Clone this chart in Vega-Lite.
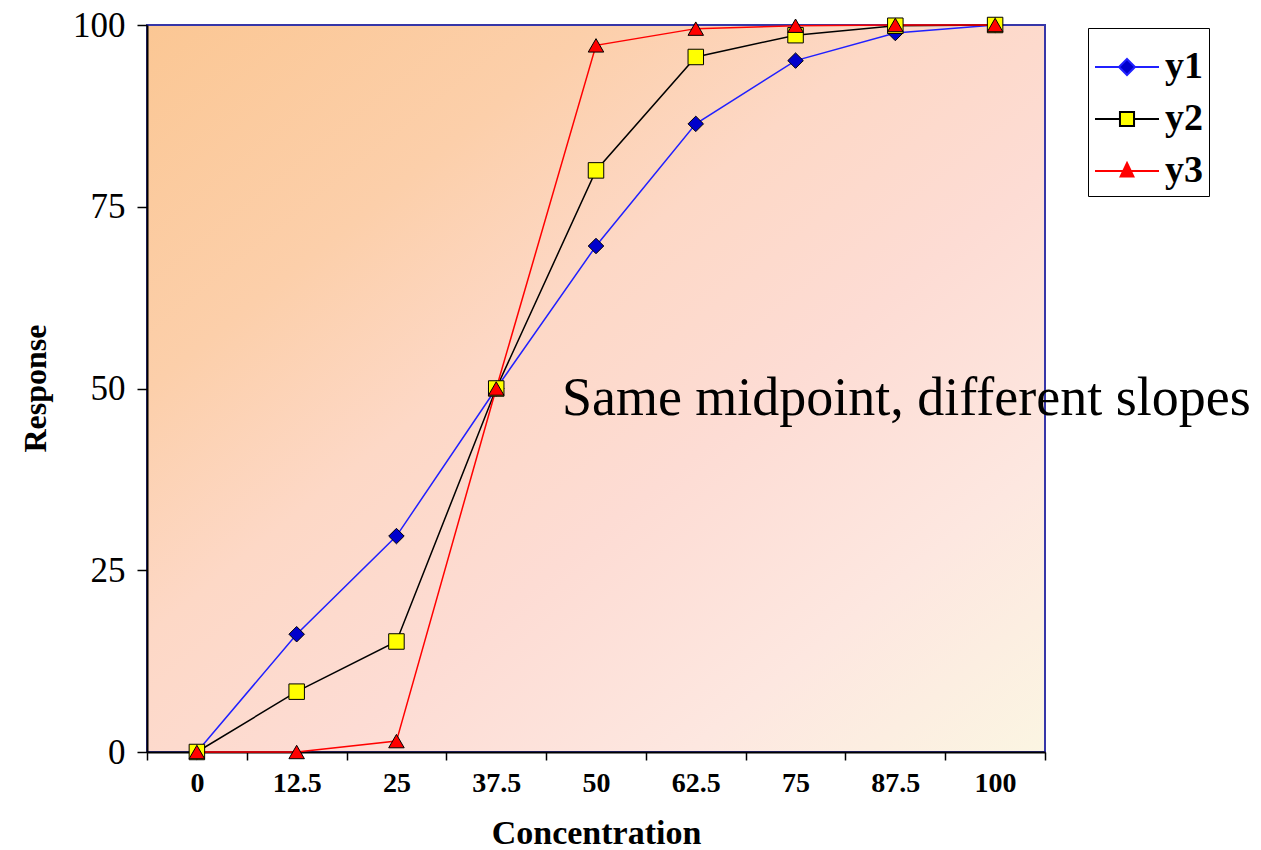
{
  "$schema": "https://vega.github.io/schema/vega-lite/v6.json",
  "width": 898,
  "height": 727,
  "autosize": {"type": "none"},
  "padding": {"left": 147, "top": 25, "right": 216, "bottom": 98},
  "background": "white",
  "config": {
    "font": "Liberation Serif",
    "view": {
      "fill": {"gradient": "linear", "x1": 0, "y1": 0, "x2": 1, "y2": 1,
        "stops": [
          {"offset": 0, "color": "#fbc794"},
          {"offset": 0.25, "color": "#fccfaa"},
          {"offset": 0.42, "color": "#fdd8c6"},
          {"offset": 0.6, "color": "#fddcd4"},
          {"offset": 0.8, "color": "#fde7e0"},
          {"offset": 1, "color": "#fbf5e2"}
        ]},
      "stroke": "#3636a8",
      "strokeWidth": 2
    },
    "axis": {
      "grid": false,
      "domainColor": "#000000",
      "domainWidth": 2,
      "tickColor": "#000000",
      "tickWidth": 1.5,
      "labelColor": "#000000",
      "titleColor": "#000000",
      "labelFont": "Liberation Serif",
      "titleFont": "Liberation Serif"
    }
  },
  "data": {"values": [
    {"conc": "0", "series": "y1", "v": 0},
    {"conc": "12.5", "series": "y1", "v": 16.2},
    {"conc": "25", "series": "y1", "v": 29.7},
    {"conc": "37.5", "series": "y1", "v": 50},
    {"conc": "50", "series": "y1", "v": 69.6},
    {"conc": "62.5", "series": "y1", "v": 86.4},
    {"conc": "75", "series": "y1", "v": 95.1},
    {"conc": "87.5", "series": "y1", "v": 98.9},
    {"conc": "100", "series": "y1", "v": 100},
    {"conc": "0", "series": "y2", "v": 0},
    {"conc": "12.5", "series": "y2", "v": 8.3},
    {"conc": "25", "series": "y2", "v": 15.2},
    {"conc": "37.5", "series": "y2", "v": 50},
    {"conc": "50", "series": "y2", "v": 80.0},
    {"conc": "62.5", "series": "y2", "v": 95.6},
    {"conc": "75", "series": "y2", "v": 98.6},
    {"conc": "87.5", "series": "y2", "v": 99.9},
    {"conc": "100", "series": "y2", "v": 100},
    {"conc": "0", "series": "y3", "v": 0},
    {"conc": "12.5", "series": "y3", "v": 0},
    {"conc": "25", "series": "y3", "v": 1.5},
    {"conc": "37.5", "series": "y3", "v": 50},
    {"conc": "50", "series": "y3", "v": 97.2},
    {"conc": "62.5", "series": "y3", "v": 99.5},
    {"conc": "75", "series": "y3", "v": 99.9},
    {"conc": "87.5", "series": "y3", "v": 100},
    {"conc": "100", "series": "y3", "v": 100}
  ]},
  "encoding": {
    "x": {
      "field": "conc", "type": "ordinal",
      "sort": ["0", "12.5", "25", "37.5", "50", "62.5", "75", "87.5", "100"],
      "scale": {"type": "band", "paddingInner": 0, "paddingOuter": 0},
      "axis": {
        "title": "Concentration", "labelAngle": 0, "tickBand": "extent", "tickSize": 8,
        "labelFontSize": 28, "labelFontWeight": "bold", "labelPadding": 9,
        "titleFontSize": 34, "titleFontWeight": "bold", "titleY": 81, "titleBaseline": "middle"
      }
    },
    "y": {
      "field": "v", "type": "quantitative",
      "scale": {"domain": [0, 100], "nice": false},
      "axis": {
        "title": "Response", "values": [0, 25, 50, 75, 100], "tickSize": 10,
        "labelFontSize": 35, "labelPadding": 12,
        "titleFontSize": 32, "titleFontWeight": "bold", "titleX": -112, "titleY": 363,
        "titleAlign": "center", "titleBaseline": "middle"
      }
    }
  },
  "layer": [
    {
      "mark": {"type": "line", "strokeWidth": 1.5},
      "encoding": {
        "stroke": {"field": "series", "type": "nominal",
          "scale": {"domain": ["y1", "y2", "y3"], "range": ["#2020ff", "#000000", "#ff0000"]},
          "legend": null}
      }
    },
    {
      "mark": {"type": "point", "filled": true, "size": 240, "strokeWidth": 1, "opacity": 1},
      "encoding": {
        "fill": {"field": "series", "type": "nominal",
          "scale": {"domain": ["y1", "y2", "y3"], "range": ["#0000cc", "#ffff00", "#ff0000"]},
          "legend": null},
        "shape": {"field": "series", "type": "nominal",
          "scale": {"domain": ["y1", "y2", "y3"], "range": ["diamond", "square", "triangle-up"]},
          "legend": null},
        "stroke": {"value": "#000000"}
      }
    },
    {
      "mark": {"type": "point", "filled": true, "opacity": 0},
      "encoding": {
        "shape": {"field": "series", "type": "nominal",
          "scale": {"domain": ["y1", "y2", "y3"], "range": [
            "M-1,0H-0.25M0.25,0H1M0,-0.25L0.25,0L0,0.25L-0.25,0Z",
            "M-1,0H-0.22M0.22,0H1M-0.22,-0.22H0.22V0.22H-0.22Z",
            "M-1,0H-0.12M0.12,0H1M0,-0.25L0.2,0.17L-0.2,0.17Z"
          ]},
          "legend": {"title": null, "orient": "none", "legendX": 941, "legendY": 3, "symbolSize": 4096, "symbolStrokeWidth": 2, "labelFont": "Liberation Serif", "labelFontSize": 38, "labelFontWeight": "bold", "labelColor": "#000000", "labelOffset": 5, "strokeColor": "#000000", "fillColor": "#ffffff", "padding": 6, "rowPadding": -14, "symbolOpacity": 1}},
        "fill": {"field": "series", "type": "nominal",
          "scale": {"domain": ["y1", "y2", "y3"], "range": ["#0000cc", "#ffff00", "#ff0000"]},
          "legend": {"title": null, "orient": "none", "legendX": 941, "legendY": 3, "symbolSize": 4096, "symbolStrokeWidth": 2, "labelFont": "Liberation Serif", "labelFontSize": 38, "labelFontWeight": "bold", "labelColor": "#000000", "labelOffset": 5, "strokeColor": "#000000", "fillColor": "#ffffff", "padding": 6, "rowPadding": -14, "symbolOpacity": 1}},
        "stroke": {"field": "series", "type": "nominal",
          "scale": {"domain": ["y1", "y2", "y3"], "range": ["#2020ff", "#000000", "#ff0000"]},
          "legend": {"title": null, "orient": "none", "legendX": 941, "legendY": 3, "symbolSize": 4096, "symbolStrokeWidth": 2, "labelFont": "Liberation Serif", "labelFontSize": 38, "labelFontWeight": "bold", "labelColor": "#000000", "labelOffset": 5, "strokeColor": "#000000", "fillColor": "#ffffff", "padding": 6, "rowPadding": -14, "symbolOpacity": 1}}
      }
    },
    {
      "data": {"values": [{"conc": "87.5", "v": 50, "note": "Same midpoint, different slopes"}]},
      "mark": {"type": "text", "font": "Liberation Serif", "fontSize": 54, "align": "center", "baseline": "middle", "dx": 11, "dy": 10, "color": "#000000"},
      "encoding": {"text": {"field": "note"}}
    }
  ],
  "resolve": {"scale": {"shape": "independent", "fill": "independent", "stroke": "independent"}}
}
